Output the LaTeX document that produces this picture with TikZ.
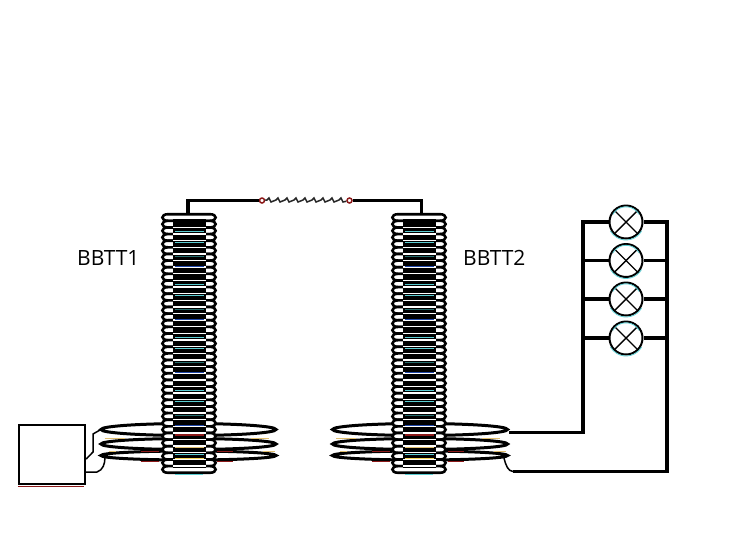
\documentclass[tikz,border=0pt]{standalone}
\usepackage{fontspec}
\setmainfont{Open Sans}
\definecolor{fcyan}{RGB}{90,205,210}
\definecolor{fteal}{RGB}{40,110,110}
\definecolor{fblue}{RGB}{30,70,170}
\definecolor{fred}{RGB}{140,25,25}
\definecolor{fgold}{RGB}{225,190,110}
\definecolor{fyel}{RGB}{245,215,90}
\tikzset{
  wire/.style={draw=black,line width=3.3pt},
  topwire/.style={draw=black,line width=3.8pt},
  thinwire/.style={draw=black,line width=1.5pt},
  ring/.style={draw=black,fill=white,line width=2.6pt},
  flat/.style={draw=black,line width=3pt},
  lamp/.style={circle,draw=black,fill=white,line width=2pt,minimum size=33pt,inner sep=0pt},
  lampx/.style={draw=black,line width=1.4pt},
  lampglow/.style={draw=fcyan,line width=.8pt},
  srcbox/.style={rectangle,draw=black,fill=white,line width=2.4pt,minimum width=66pt,minimum height=59pt,inner sep=0pt},
  lbl/.style={font=\fontsize{21}{21}\selectfont,inner sep=0pt,text=black},
  joint/.style={circle,draw=fred,fill=white,line width=1.5pt,minimum size=5pt,inner sep=0pt}
}
\newcommand{\flatcoils}[1]{%
  \begin{scope}[xshift=#1pt]
    \draw[flat] (0,429.5) ellipse [x radius=87.5pt,y radius=6pt];
    \draw[flat] (0,444) ellipse [x radius=87.5pt,y radius=5.5pt];
    \draw[flat] (0,455.5) ellipse [x radius=87.5pt,y radius=4.5pt];
    \draw[fgold,line width=1pt] (-84,438.2) -- (-64,438.2) (62,438.2) -- (80,438.2) (-80,451.2) -- (-73,451.2) (74,451.2) -- (86,451.2);
    \draw[fred,line width=1pt] (28,451) -- (44,451) (-48,451) -- (-30,451) (28,461.3) -- (44,461.3) (-48,461.3) -- (-30,461.3);
  \end{scope}}
\newcommand{\tower}[1]{%
  \begin{scope}[xshift=#1pt]
    \foreach \i in {0,...,38}{
      \pgfmathsetmacro{\yt}{214.2+6.63*\i}
      \pgfmathsetmacro{\yb}{220.8+6.63*\i}
      \draw[ring] (-21,\yt) .. controls (-28.5,\yt) and (-28.5,\yb) .. (-21,\yb) -- (21,\yb) .. controls (28.5,\yb) and (28.5,\yt) .. (21,\yt) -- cycle;
    }
    \fill[black] (-16,219) rectangle (17,468);
    \foreach \i in {1,...,37}{
      \draw[white,line width=1.4pt] (-16,220.7+6.63*\i) -- (17,220.7+6.63*\i);
    }
    \foreach \o in {0,53,106,159}{
      \draw[fcyan,line width=1pt] (-14,231.5+\o) -- (15,231.5+\o) (-14,242+\o) -- (15,242+\o);
      \draw[fteal,line width=1pt] (-14,256.5+\o) -- (15,256.5+\o);
      \draw[fblue,line width=1pt] (-14,266.5+\o) -- (15,266.5+\o);
    }
    \draw[fred,line width=1.2pt] (-14,435) -- (15,435);
    \draw[fgold,line width=1pt] (-14,447.5) -- (15,447.5);
    \draw[fcyan,line width=1pt] (-14,454) -- (15,454);
    \draw[fyel,line width=1pt] (-14,458.5) -- (15,458.5);
    \draw[fcyan,line width=1pt] (-14,474) -- (14,474);
  \end{scope}}
\begin{document}
\begin{tikzpicture}[x=1pt,y=-1pt]
\useasboundingbox (0,0) rectangle (735,544);
\fill[white] (0,0) rectangle (735,544);
% flat coils and towers
\flatcoils{188.5}
\flatcoils{420}
\tower{189}
\tower{419}
% source box
\node[srcbox] (src) at (52,454.5) {};
\draw[fred,line width=1pt] (src.south west) ++(0,1.4) -- ++(66,0);
\coordinate (pa) at (100,430);
\coordinate (pb) at (105,457);
\draw[thinwire] (src.east |- 0,459) -- (93,452) -- (93,434) -- (pa);
\draw[thinwire] (src.east |- 0,472) -- (97,472) .. controls (103,470) and (105,464) .. (pb);
% top link
\coordinate (t1) at (188,215);
\coordinate (t2) at (421.5,215);
\node[joint] (j1) at (262,200.5) {};
\node[joint] (j2) at (349.5,200.5) {};
\draw[topwire] (t1) -- (188,200.5) -- (j1);
\draw[topwire] (j2) -- (421.5,200.5) -- (t2);
\draw[black!85,line width=1.5pt] (j1) -- (267,200) -- (269,198) -- (271,202) -- (276,200) -- (278,198) -- (280,202) -- (285,200) -- (287,198) -- (289,202) -- (294,200) -- (296,198) -- (298,202) -- (303,200) -- (305,198) -- (307,202) -- (312,200) -- (314,198) -- (316,202) -- (321,200) -- (323,198) -- (325,202) -- (330,200) -- (332,198) -- (334,202) -- (339,200) -- (341,198) -- (343,202) -- (j2);
% lamps
\node[lamp] (l1) at (626,222) {};
\node[lamp] (l2) at (626,260.5) {};
\node[lamp] (l3) at (626,299) {};
\node[lamp] (l4) at (626,338) {};
\foreach \n in {l1,l2,l3,l4}{
  \draw[lampx] (\n.45) -- (\n.225);
  \draw[lampx] (\n.135) -- (\n.315);
  \draw[lampglow] (\n.center) ++(30:18) arc (30:150:18);
  \draw[lampglow] (\n.center) ++(210:15.2) arc (210:330:15.2);
}
\coordinate (s1) at (509,432.5);
\coordinate (s2) at (504,458);
\draw[wire] (s1) -- (583,432.5) -- (583,222) -- (l1.west);
\draw[wire] (583,260.5) -- (l2.west);
\draw[wire] (583,299) -- (l3.west);
\draw[wire] (583,338) -- (l4.west);
\draw[wire] (l1.east) -- (667,222) -- (667,471.5) -- (513,471.5);
\draw[wire] (l2.east) -- (667,260.5);
\draw[wire] (l3.east) -- (667,299);
\draw[wire] (l4.east) -- (667,338);
\draw[thinwire] (513,471.5) .. controls (508,471) and (506,466) .. (s2);
% labels
\node[lbl,anchor=base west] (b1) at (77,265) {BBTT1};
\node[lbl,anchor=base west] (b2) at (463,265.5) {BBTT2};
\end{tikzpicture}
\end{document}
